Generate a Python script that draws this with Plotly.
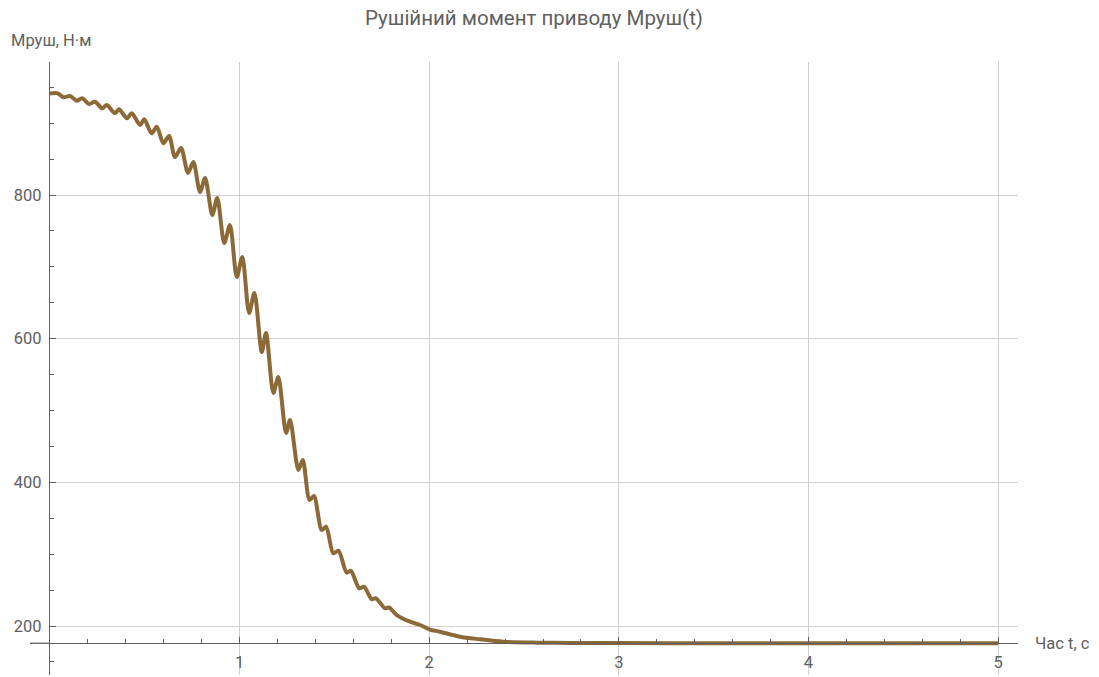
import plotly.graph_objects as go

# Time, s
t_values = [0.000, 0.041, 0.070, 0.106, 0.141, 0.170, 0.206, 0.237, 0.276, 0.299,
            0.343, 0.364, 0.405, 0.431, 0.475, 0.497, 0.536, 0.563, 0.598, 0.628,
            0.659, 0.691, 0.728, 0.756, 0.791, 0.818, 0.856, 0.882, 0.919, 0.949,
            0.985, 1.014, 1.050, 1.078, 1.117, 1.139, 1.178, 1.204, 1.245, 1.266,
            1.310, 1.333, 1.369, 1.392, 1.433, 1.456, 1.494, 1.521, 1.565, 1.586,
            1.631, 1.656, 1.697, 1.719, 1.767, 1.788, 1.829, 1.899, 1.952, 2.004,
            2.057, 2.162, 2.268, 2.389, 2.569, 2.743, 3.006, 3.500, 4.000, 4.500, 5.000]
# Driving torque, N*m
m_values = [941.3, 941.6, 936.1, 937.9, 931.3, 934.7, 926.7, 929.9, 920.7, 925.3,
            913.8, 919.4, 906.8, 913.8, 897.5, 905.4, 885.9, 895.1, 872.0, 882.2,
            852.9, 865.5, 830.7, 846.0, 804.2, 823.7, 772.2, 795.9, 733.2, 758.3,
            685.9, 713.7, 635.8, 663.6, 581.5, 607.9, 524.4, 546.7, 468.7, 486.8,
            417.2, 431.1, 375.4, 381.0, 333.7, 338.2, 301.2, 304.8, 274.2, 277.0,
            252.5, 254.7, 237.2, 238.6, 224.6, 225.8, 215.3, 206.0, 201.4, 195.1,
            192.1, 185.1, 181.5, 178.1, 176.8, 176.4, 176.2, 176.0, 176.0, 176.0, 176.0]

x_tick_vals = [1, 2, 3, 4, 5]
x_tick_text = ["1", "2", "3", "4", "5"]
y_tick_vals = [200, 400, 600, 800]
y_tick_text = ["200", "400", "600", "800"]

title_text = "Рушійний момент приводу Mруш(t)"
y_label = "Mруш, Н·м"
x_label = "Час t, с"

axes_origin_y = 176.0
x_range = [0, 5.105]
y_range = [131.8, 985.2]

FONT = "Roboto"
TEXT_COLOR = "#606060"
AXIS_COLOR = "#5f5f5f"
GRID_COLOR = "#cfcfcf"
CURVE_COLOR = "rgb(140,106,56)"

fig = go.Figure()
fig.add_trace(go.Scatter(
    x=t_values, y=m_values, mode="lines",
    line=dict(color=CURVE_COLOR, width=4, shape="spline", smoothing=0.8),
    showlegend=False, hoverinfo="x+y",
))

x_pos = (axes_origin_y - y_range[0]) / (y_range[1] - y_range[0])

fig.update_layout(
    width=1099, height=677,
    margin=dict(l=50, r=81, t=62, b=2),
    paper_bgcolor="white", plot_bgcolor="white",
    font=dict(family=FONT, color=TEXT_COLOR, size=16),
    title=dict(text=title_text, x=0.5, xref="paper", xanchor="center",
               y=1 - 18 / 677, yref="container", yanchor="middle",
               font=dict(family=FONT, size=20.5, color=TEXT_COLOR)),
    xaxis=dict(
        range=x_range, anchor="free", position=x_pos,
        showline=True, linecolor=AXIS_COLOR, linewidth=1.3,
        tickmode="array", tickvals=x_tick_vals, ticktext=x_tick_text,
        ticks="inside", ticklen=6, tickcolor=AXIS_COLOR, tickwidth=1.3,
        ticklabelstandoff=4,
        showgrid=True, gridcolor=GRID_COLOR, gridwidth=1,
        zeroline=False,
        minor=dict(dtick=0.2, tick0=0, ticks="inside", ticklen=4,
                   tickcolor=AXIS_COLOR, tickwidth=1.1, showgrid=False),
        tickfont=dict(family=FONT, size=16.5, color=TEXT_COLOR),
    ),
    yaxis=dict(
        range=y_range, anchor="x",
        showline=True, linecolor=AXIS_COLOR, linewidth=1.3,
        tickmode="array", tickvals=y_tick_vals, ticktext=y_tick_text,
        ticks="inside", ticklen=6, tickcolor=AXIS_COLOR, tickwidth=1.3,
        ticklabelstandoff=4,
        showgrid=True, gridcolor=GRID_COLOR, gridwidth=1,
        zeroline=False,
        minor=dict(dtick=50, tick0=0, ticks="inside", ticklen=4,
                   tickcolor=AXIS_COLOR, tickwidth=1.1, showgrid=False),
        tickfont=dict(family=FONT, size=16.5, color=TEXT_COLOR),
    ),
)

# extend the horizontal axis a little to the left of the vertical axis (Mathematica style)
fig.add_shape(type="line", xref="paper", yref="y",
              x0=-20 / 968, x1=0, y0=axes_origin_y, y1=axes_origin_y,
              line=dict(color=AXIS_COLOR, width=1.3), layer="above")

fig.add_annotation(text=y_label, xref="paper", yref="paper",
                   x=-41 / 968, y=1 + 21 / 613, xanchor="left", yanchor="middle",
                   showarrow=False, font=dict(family=FONT, size=16.5, color=TEXT_COLOR))
fig.add_annotation(text=x_label, xref="paper", yref="y",
                   x=1 + 15 / 968, y=axes_origin_y, xanchor="left", yanchor="middle",
                   showarrow=False, font=dict(family=FONT, size=16.5, color=TEXT_COLOR))

fig.write_html("out.html")
